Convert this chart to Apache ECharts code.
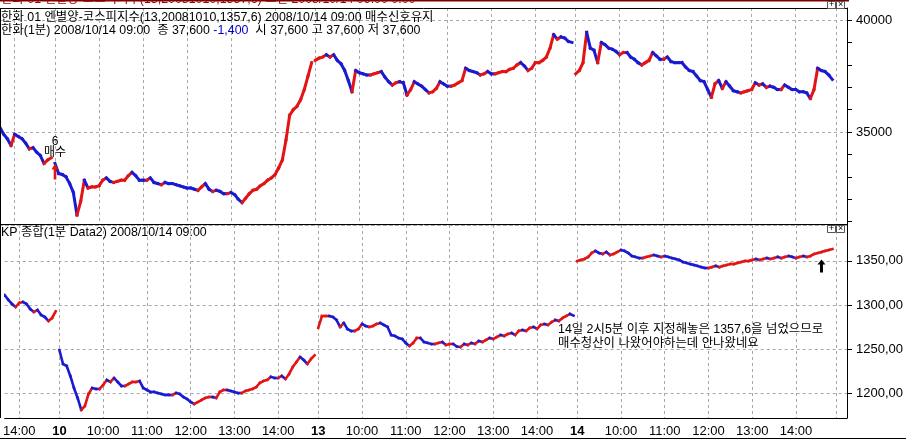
<!DOCTYPE html>
<html><head><meta charset="utf-8">
<script src="https://cdn.jsdelivr.net/npm/echarts@6/dist/echarts.min.js"></script>
<style>html,body{margin:0;padding:0;background:#fff}#c{width:906px;height:440px}</style>
</head><body><div id="c"></div><script>
// ---- data ----
const dayNames = ['9', '10', '13', '14'];
const dayStartTimes = ['13:40', '09:00', '09:00', '09:00'];
const dayEndTime = '14:50';
const padTimes = ['15:00', '15:05', '15:10', '15:15'];

// 한화 1분 (sampled every 5 minutes)
const hanwha = [
  35200,34900,34700,34400,34900,34800,34700,34500,34250,34300,34100,33950,33600,33750,33850,
  33600,33150,33100,33000,32700,32300,31300,31900,32850,32500,32550,32550,32600,32850,32950,32800,32750,32800,32850,32850,33050,33200,33050,32850,32850,32850,32950,32750,32700,32650,32750,32700,32700,32650,32600,32550,32500,32500,32450,32400,32550,32700,32450,32350,32400,32350,32250,32250,32300,32200,32000,31850,32050,32250,32400,32450,32600,32700,32850,32950,33100,33400,33750,34650,35750,36000,36150,36450,36900,37500,38100,
  38200,38300,38350,38450,38350,38450,38200,38050,37750,37300,36800,37750,37650,37600,37550,37550,37600,37650,37700,37450,37250,37100,37200,37250,37200,36650,36900,37250,37150,37050,36900,36750,36800,36950,37250,37150,37050,37050,37100,37200,37300,37850,37750,37700,37650,37550,37600,37700,37600,37600,37650,37700,37700,37800,37850,38000,38100,37950,37750,37850,38100,38100,38200,38350,38750,39350,39150,39250,39200,39050,39000,
  37600,37750,38100,39450,38750,38650,38100,39000,38900,38750,38700,38600,38450,38550,38550,38350,38250,38100,38000,38100,38200,38550,38400,38250,38250,38350,38150,38100,38100,38100,37900,37750,37700,37500,37300,37250,36900,36550,37150,37300,36950,37250,37050,36850,36800,36750,36800,36850,36900,37200,37100,37150,37000,37050,37000,36900,36900,37100,37000,36900,36900,36800,36800,36750,36500,36900,37850,37750,37700,37550,37350
];

// KP 종합 1분 (sampled every 5 minutes)
const kospi = [
  1311.3,1305.7,1301.1,1297.7,1302.3,1303.4,1301.1,1295.5,1292.1,1294.3,1288.7,1286.4,1281.9,1285.3,1293.0,
  1249.0,1233.2,1230.9,1219.6,1206.0,1194.7,1181.1,1185.6,1199.2,1206.0,1204.9,1204.9,1209.4,1215.1,1212.8,1217.3,1212.8,1208.3,1208.3,1210.5,1212.8,1212.8,1213.9,1206.0,1203.7,1201.5,1201.5,1200.3,1199.2,1198.1,1198.1,1198.1,1200.3,1199.2,1195.8,1193.5,1190.1,1187.9,1190.1,1192.4,1194.7,1195.8,1195.8,1194.7,1201.5,1203.7,1203.7,1202.6,1201.5,1200.3,1200.3,1202.6,1203.7,1204.9,1207.1,1211.7,1213.9,1215.1,1218.5,1217.3,1217.3,1219.6,1216.2,1221.9,1229.8,1235.4,1241.1,1237.7,1233.2,1238.8,1243.0,
  1274.0,1287.5,1287.5,1287.5,1286.4,1283.0,1275.1,1279.6,1272.8,1270.6,1270.6,1272.8,1278.5,1276.2,1275.1,1276.2,1278.5,1279.6,1277.4,1275.1,1266.0,1264.9,1262.6,1261.5,1257.0,1253.6,1257.0,1262.6,1262.6,1258.1,1257.0,1255.8,1255.8,1257.0,1258.1,1254.7,1255.8,1255.8,1253.0,1252.4,1255.8,1254.7,1257.0,1256.0,1259.2,1258.1,1260.4,1262.6,1261.5,1263.8,1266.0,1264.9,1267.2,1268.3,1266.0,1270.6,1271.7,1270.6,1274.0,1275.1,1273.0,1277.4,1278.5,1277.4,1280.7,1283.0,1282.0,1285.3,1287.5,1289.8,1288.0,
  1349.8,1351.0,1352.1,1354.4,1358.9,1361.2,1358.9,1357.8,1360.0,1356.6,1357.8,1360.0,1362.3,1361.2,1358.9,1355.5,1354.4,1353.2,1353.2,1354.4,1355.5,1356.6,1355.5,1354.4,1355.5,1354.4,1353.2,1352.1,1351.0,1348.7,1347.6,1346.4,1345.3,1344.2,1343.0,1341.9,1341.9,1343.0,1344.2,1343.0,1344.2,1345.3,1346.4,1346.4,1347.6,1348.7,1349.8,1349.8,1351.0,1352.1,1351.0,1352.1,1353.2,1352.1,1353.2,1354.4,1353.2,1354.4,1355.5,1354.4,1353.2,1354.4,1355.5,1354.4,1355.5,1357.8,1358.9,1360.0,1361.2,1362.3,1363.4
];

const buySignalIndex = 15;      // 10일 09:00 매수 신호
const buySignalLabel = '6\n매수';
const arrowIndex = 224;         // 14일 화살표

const headerCut = '한화 01 엔별양-코스피지수(13,20081010,1357,6) 조인 2008/10/14 09:00 0.00';
const header1 = '한화 01 엔별양-코스피지수(13,20081010,1357,6) 2008/10/14 09:00 매수신호유지';
const header2 = '한화(1분) 2008/10/14 09:00  종 37,600 {blue|-1,400}  시 37,600 고 37,600 저 37,600';
const header3 = 'KP 종합(1분 Data2) 2008/10/14 09:00';
const note = '14일 2시5분 이후 지정해놓은 1357,6을 넘었으므로\n매수청산이 나왔어야하는데 안나왔네요';

// ---- categories ----
function buildTimes(start, end) {
  const out = []; let [h, m] = start.split(':').map(Number); const [eh, em] = end.split(':').map(Number);
  while (h * 60 + m <= eh * 60 + em) { out.push(String(h).padStart(2, '0') + ':' + String(m).padStart(2, '0')); m += 5; if (m >= 60) { m -= 60; h++; } }
  return out;
}
const cats = [], dayOf = [], timeOf = [];
dayNames.forEach((d, k) => { buildTimes(dayStartTimes[k], dayEndTime).forEach(t => { cats.push(d + ' ' + t); dayOf.push(k); timeOf.push(t); }); });
const nData = cats.length;
padTimes.forEach(t => { cats.push('14 ' + t); dayOf.push(3); timeOf.push(t); });

const RED = '#e31414', BLUE = '#1a1ad2';
function segs(vals) {
  const out = []; let dir = 1;
  for (let i = 1; i < vals.length; i++) {
    if (dayOf[i] !== dayOf[i - 1]) continue;
    if (vals[i] > vals[i - 1]) dir = 1; else if (vals[i] < vals[i - 1]) dir = 0;
    out.push([i, vals[i - 1], vals[i], dir]);
  }
  return out;
}
function render(lw) {
  return function (params, api) {
    const i = api.value(0);
    const a = api.coord([i - 1, api.value(1)]);
    const b = api.coord([i, api.value(2)]);
    return { type: 'line', shape: { x1: a[0], y1: a[1], x2: b[0], y2: b[1] },
      style: { stroke: api.value(3) ? RED : BLUE, lineWidth: lw, lineCap: 'square' } };
  };
}

const FAX = "'Liberation Sans Narrow','Liberation Sans',sans-serif";
const FTX = "'Liberation Sans','Noto Sans CJK KR',sans-serif";
const FS = '12.4px ';
const isHour = (idx) => timeOf[idx] && timeOf[idx].endsWith(':00');
const dash = { type: [3, 3], color: '#a8a8a8', width: 1 };
const arrowPath = 'path://M4,0 L8,5 L5.5,5 L5.5,13 L2.5,13 L2.5,5 L0,5 Z';

const chart = echarts.init(document.getElementById('c'), null, { renderer: 'canvas' });
const xBase = { type: 'category', data: cats, boundaryGap: false };
chart.setOption({
  animation: false,
  backgroundColor: '#fff',
  grid: [
    { left: 0, top: 8, width: 847, height: 217 },
    { left: 0, top: 225, width: 847, height: 193 }
  ],
  xAxis: [
    Object.assign({}, xBase, { gridIndex: 0, axisLine: { show: false }, axisTick: { show: false }, axisLabel: { show: false },
      splitLine: { show: true, interval: (i) => isHour(i), lineStyle: dash } }),
    Object.assign({}, xBase, { gridIndex: 1, axisLine: { show: true, lineStyle: { color: '#000', width: 1 } }, axisTick: { show: false },
      axisLabel: { show: true, interval: (i) => i < nData && isHour(i), margin: 7, color: '#000', fontFamily: FAX, fontSize: 13,
        formatter: (v, i) => { const p = v.split(' '); return p[1] === '09:00' ? '{b|' + p[0] + '}' : p[1]; },
        rich: { b: { fontWeight: 'bold', fontFamily: FAX, fontSize: 13, color: '#000' } } },
      splitLine: { show: true, interval: (i) => isHour(i), lineStyle: dash } })
  ],
  yAxis: [
    { gridIndex: 0, type: 'value', position: 'right', min: 30850, max: 40540, splitNumber: 10, minInterval: 1000, maxInterval: 1000,
      axisLine: { show: true, lineStyle: { color: '#000' } }, axisTick: { show: true, length: 5, lineStyle: { color: '#000' } },
      axisLabel: { margin: 9, color: '#000', fontFamily: FAX, fontSize: 13, showMinLabel: false, showMaxLabel: false,
        formatter: (v) => (v % 5000 === 0 ? String(v) : '') }, splitLine: { show: false } },
    { gridIndex: 1, type: 'value', position: 'right', min: 1172, max: 1390.6, splitNumber: 5, minInterval: 50, maxInterval: 50,
      axisLine: { show: true, lineStyle: { color: '#000' } }, axisTick: { show: true, length: 5, lineStyle: { color: '#000' } },
      axisLabel: { margin: 9, color: '#000', fontFamily: FAX, fontSize: 13, showMinLabel: false, showMaxLabel: false,
        formatter: (v) => (v % 50 === 0 ? v.toFixed(2).replace('.', ',') : '') },
      splitLine: { show: true, lineStyle: dash } },
    { gridIndex: 0, type: 'value', position: 'right', min: 30850, max: 40540, splitNumber: 2, minInterval: 5000, maxInterval: 5000,
      axisLine: { show: false }, axisTick: { show: false }, axisLabel: { show: false },
      splitLine: { show: true, lineStyle: dash } }
  ],
  series: [
    { type: 'custom', xAxisIndex: 0, yAxisIndex: 0, data: segs(hanwha), renderItem: render(3), clip: true, silent: true,
      encode: { x: 0, y: [1, 2] } },
    { type: 'custom', xAxisIndex: 1, yAxisIndex: 1, data: segs(kospi), renderItem: render(2.6), clip: true, silent: true,
      encode: { x: 0, y: [1, 2] } },
    { type: 'line', xAxisIndex: 0, yAxisIndex: 0, data: [], silent: true,
      markPoint: { silent: true, animation: false, data: [
        { coord: [buySignalIndex, hanwha[buySignalIndex]], symbol: arrowPath, symbolSize: [7, 16], symbolOffset: [0, 8],
          itemStyle: { color: RED }, label: { show: false } },
        { coord: [buySignalIndex, hanwha[buySignalIndex]], symbol: 'rect', symbolSize: 1, itemStyle: { color: 'rgba(0,0,0,0)' },
          label: { show: true, position: 'inside', offset: [0, -16], formatter: buySignalLabel, color: '#000',
            fontFamily: FTX, fontSize: 12, lineHeight: 11 } }
      ] } },
    { type: 'line', xAxisIndex: 1, yAxisIndex: 1, data: [], silent: true,
      markPoint: { silent: true, animation: false, data: [
        { coord: [arrowIndex, kospi[arrowIndex]], symbol: arrowPath, symbolSize: [8, 13], symbolOffset: [0, 14],
          itemStyle: { color: '#000' }, label: { show: false } }
      ] } }
  ],
  graphic: [
    { type: 'rect', left: 0, top: 0, shape: { width: 849, height: 1.5 }, style: { fill: '#7a0000' }, z: 10 },
    { type: 'text', left: 1, top: -7, style: { text: headerCut, fill: '#a00000', font: FS + FTX }, z: 10 },
    { type: 'text', left: 1, top: 11, style: { text: header1, fill: '#000', font: FS + FTX }, z: 10 },
    { type: 'text', left: 1, top: 24, style: { text: header2, fill: '#000', font: FS + FTX, rich: { blue: { fill: '#0000c8', font: FS + FTX } } }, z: 10 },
    { type: 'text', left: 1, top: 226, style: { text: header3, fill: '#000', font: FS + FTX }, z: 10 },
    { type: 'text', left: 558, top: 323, style: { text: note, fill: '#000', font: FS + FTX, lineHeight: 14 }, z: 10 },
    { type: 'line', shape: { x1: 0, y1: 8.5, x2: 847, y2: 8.5 }, style: { stroke: '#000', lineWidth: 1 }, z: 10 },
    { type: 'line', shape: { x1: 0, y1: 224.5, x2: 847, y2: 224.5 }, style: { stroke: '#000', lineWidth: 1 }, z: 10 },
    { type: 'line', shape: { x1: 0.5, y1: 8, x2: 0.5, y2: 418 }, style: { stroke: '#000', lineWidth: 1 }, z: 10 },
    { type: 'line', shape: { x1: 0, y1: 438.5, x2: 906, y2: 438.5 }, style: { stroke: '#000', lineWidth: 1 }, z: 10 },
    { type: 'rect', shape: { x: 827.5, y: 1.5, width: 8, height: 7 }, style: { fill: '#fff', stroke: '#555', lineWidth: 1 }, z: 11 },
    { type: 'rect', shape: { x: 836.5, y: 1.5, width: 8, height: 7 }, style: { fill: '#fff', stroke: '#555', lineWidth: 1 }, z: 11 },
    { type: 'text', left: 829, top: 0, style: { text: '+', fill: '#000', font: '9px ' + FTX }, z: 12 },
    { type: 'text', left: 838, top: 0, style: { text: '×', fill: '#000', font: '9px ' + FTX }, z: 12 },
    { type: 'rect', shape: { x: 827.5, y: 225.5, width: 8, height: 7 }, style: { fill: '#fff', stroke: '#555', lineWidth: 1 }, z: 11 },
    { type: 'rect', shape: { x: 836.5, y: 225.5, width: 8, height: 7 }, style: { fill: '#fff', stroke: '#555', lineWidth: 1 }, z: 11 },
    { type: 'text', left: 829, top: 224, style: { text: '+', fill: '#000', font: '9px ' + FTX }, z: 12 },
    { type: 'text', left: 838, top: 224, style: { text: '×', fill: '#000', font: '9px ' + FTX }, z: 12 }
  ]
});
</script></body></html>
